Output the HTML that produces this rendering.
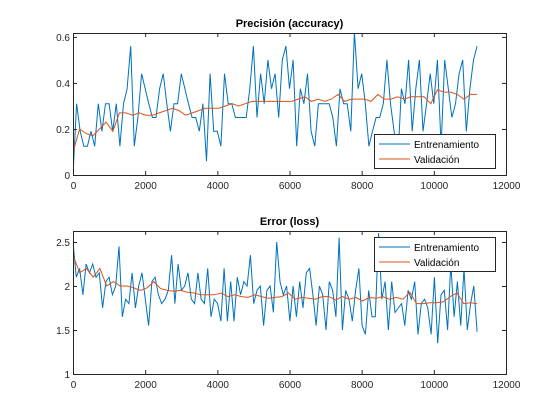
<!DOCTYPE html>
<html><head><meta charset="utf-8"><style>
body{margin:0;background:#fff;}
svg{display:block;font-family:"Liberation Sans",Arial,sans-serif;}
</style></head><body>
<svg id="c" width="560" height="420"></svg>
<script>
const accTrain=[0,0.31,0.19,0.125,0.125,0.19,0.125,0.31,0.19,0.31,0.31,0.19,0.31,0.125,0.31,0.375,0.56,0.125,0.25,0.44,0.375,0.31,0.25,0.25,0.375,0.44,0.31,0.19,0.31,0.31,0.44,0.375,0.31,0.25,0.25,0.19,0.31,0.06,0.44,0.19,0.19,0.125,0.44,0.31,0.31,0.25,0.25,0.25,0.25,0.375,0.56,0.25,0.44,0.31,0.5,0.375,0.44,0.25,0.5,0.56,0.375,0.5,0.125,0.375,0.31,0.44,0.19,0.125,0.31,0.31,0.31,0.31,0.25,0.125,0.375,0.31,0.31,0.19,0.62,0.375,0.44,0.31,0.125,0.19,0.25,0.25,0.31,0.5,0.31,0.19,0.06,0.375,0.31,0.5,0.19,0.375,0.5,0.19,0.31,0.44,0.31,0.5,0.125,0.5,0.375,0.25,0.31,0.44,0.5,0.19,0.375,0.5,0.56];
const accVal=[0.1,0.2,0.18,0.17,0.2,0.23,0.19,0.27,0.27,0.26,0.27,0.26,0.26,0.27,0.28,0.29,0.28,0.26,0.27,0.28,0.29,0.29,0.29,0.3,0.31,0.3,0.31,0.32,0.32,0.32,0.32,0.32,0.32,0.32,0.33,0.34,0.32,0.33,0.32,0.33,0.35,0.32,0.33,0.33,0.33,0.32,0.35,0.33,0.33,0.34,0.33,0.34,0.34,0.34,0.31,0.37,0.36,0.36,0.35,0.33,0.35,0.35];
const lossTrain=[2.5,2.1,2.2,1.9,2.25,2.15,2.25,2.1,2.15,1.75,2.05,2.1,1.9,2.0,2.45,1.65,1.85,1.8,2.15,1.75,2.0,2.15,1.85,1.55,2.05,2.1,1.9,1.8,1.85,1.95,2.35,1.8,2.25,1.95,2.0,2.15,1.85,1.8,2.15,1.85,1.8,2.2,1.65,1.85,1.8,1.6,2.2,1.6,2.05,1.6,2.1,1.9,2.05,2.0,2.35,1.8,1.95,2.0,1.55,1.95,2.0,1.7,2.5,2.05,1.9,2.0,1.6,2.0,1.65,2.05,1.75,2.15,2.2,1.9,1.55,2.0,1.9,1.5,2.05,1.95,1.65,2.55,1.5,1.95,1.85,1.6,1.95,2.2,1.55,1.45,1.95,1.65,1.65,2.6,1.85,2.05,1.5,2.05,1.7,1.75,1.8,1.55,1.95,1.85,2.05,1.45,1.8,1.85,1.75,1.45,2.1,1.35,1.9,1.95,1.5,2.25,1.65,2.05,1.55,2.2,1.5,1.8,2.0,1.48];
const lossVal=[2.35,2.15,2.2,2.1,2.2,2.0,2.05,2.0,2.0,1.98,1.95,1.98,2.05,1.97,1.95,1.94,1.95,1.93,1.92,1.9,1.9,1.9,1.92,1.88,1.9,1.88,1.87,1.9,1.88,1.86,1.87,1.88,1.92,1.85,1.87,1.86,1.85,1.88,1.88,1.84,1.88,1.85,1.87,1.83,1.87,1.86,1.88,1.85,1.87,1.85,1.93,1.8,1.8,1.81,1.81,1.82,1.88,1.92,1.8,1.81,1.8];
const xTicks=[0,2000,4000,6000,8000,10000,12000];
const accTicks=[0,0.2,0.4,0.6];
const lossTicks=[1,1.5,2,2.5];
const XMAX=11200;
const NS="http://www.w3.org/2000/svg";
const svg=document.getElementById('c');
function mk(t,a,p){const e=document.createElementNS(NS,t);for(const k in a)e.setAttribute(k,a[k]);(p||svg).appendChild(e);return e;}
function panel(o){
 const L=73,R=506,T=o.top,B=o.bottom;
 const xs=v=>L+(v/12000)*(R-L);
 const ys=v=>B-(v-o.ymin)/(o.ymax-o.ymin)*(B-T);
 const g=mk('g',{});
 
 
 mk('rect',{x:L,y:T,width:R-L,height:B-T,fill:'#fff',stroke:'none'},g);
 const clip=mk('clipPath',{id:o.name+'-clip'},g);mk('rect',{x:L,y:T,width:R-L,height:B-T},clip);
 function line(arr,color,nm){
  const pts=arr.map((v,i)=>xs(i*XMAX/(arr.length-1)).toFixed(1)+','+ys(v).toFixed(1)).join(' ');
  const p=mk('polyline',{points:pts,fill:'none',stroke:color,'stroke-width':1,'clip-path':'url(#'+o.name+'-clip)'},g);
  
  
 }
 line(o.train,'#0072bd',o.name+'-train-line');
 line(o.val,'#d95319',o.name+'-val-line');
 mk('rect',{x:L+.5,y:T+.5,width:R-L,height:B-T,fill:'none',stroke:'#262626','stroke-width':1},g);
 xTicks.forEach(t=>{const x=xs(t)+.5;mk('line',{x1:x,x2:x,y1:B,y2:B-4,stroke:'#262626'},g);mk('line',{x1:x,x2:x,y1:T,y2:T+4,stroke:'#262626'},g);
  const tx=mk('text',{x:x,y:B+14,'font-size':10,'text-anchor':'middle',fill:'#262626'},g);tx.textContent=t;
  
  });
 o.ticks.forEach(t=>{const y=ys(t)+.5;mk('line',{x1:L,x2:L+4,y1:y,y2:y,stroke:'#262626'},g);mk('line',{x1:R-4,x2:R,y1:y,y2:y,stroke:'#262626'},g);
  const tx=mk('text',{x:L-3,y:y+3.5,'font-size':10,'text-anchor':'end',fill:'#262626'},g);tx.textContent=t;
  
  });
 const ti=mk('text',{x:(L+R)/2,y:T-6,'font-size':11,'font-weight':'bold','text-anchor':'middle',fill:'#000'},g);ti.textContent=o.title;
 
 
 const lg=mk('g',{},g);
 
 
 const ly=o.legY;
 mk('rect',{x:374.5,y:ly+.5,width:121,height:34,fill:'#fff',stroke:'#262626'},lg);
 [['Entrenamiento','#0072bd'],['Validación','#d95319']].forEach((e,i)=>{
  const yy=ly+10+i*15;
  mk('line',{x1:379,x2:410,y1:yy,y2:yy,stroke:e[1]},lg);
  const t=mk('text',{x:414,y:yy+4,'font-size':10,fill:'#000'},lg);t.textContent=e[0];
  
  
 });
}
panel({name:'accuracy-panel',title:'Precisión (accuracy)',top:33,bottom:175,ymin:0,ymax:0.617,ticks:accTicks,train:accTrain,val:accVal,legY:134});
panel({name:'loss-panel',title:'Error (loss)',top:231,bottom:374,ymin:1,ymax:2.625,ticks:lossTicks,train:lossTrain,val:lossVal,legY:237});
</script>
</body></html>
